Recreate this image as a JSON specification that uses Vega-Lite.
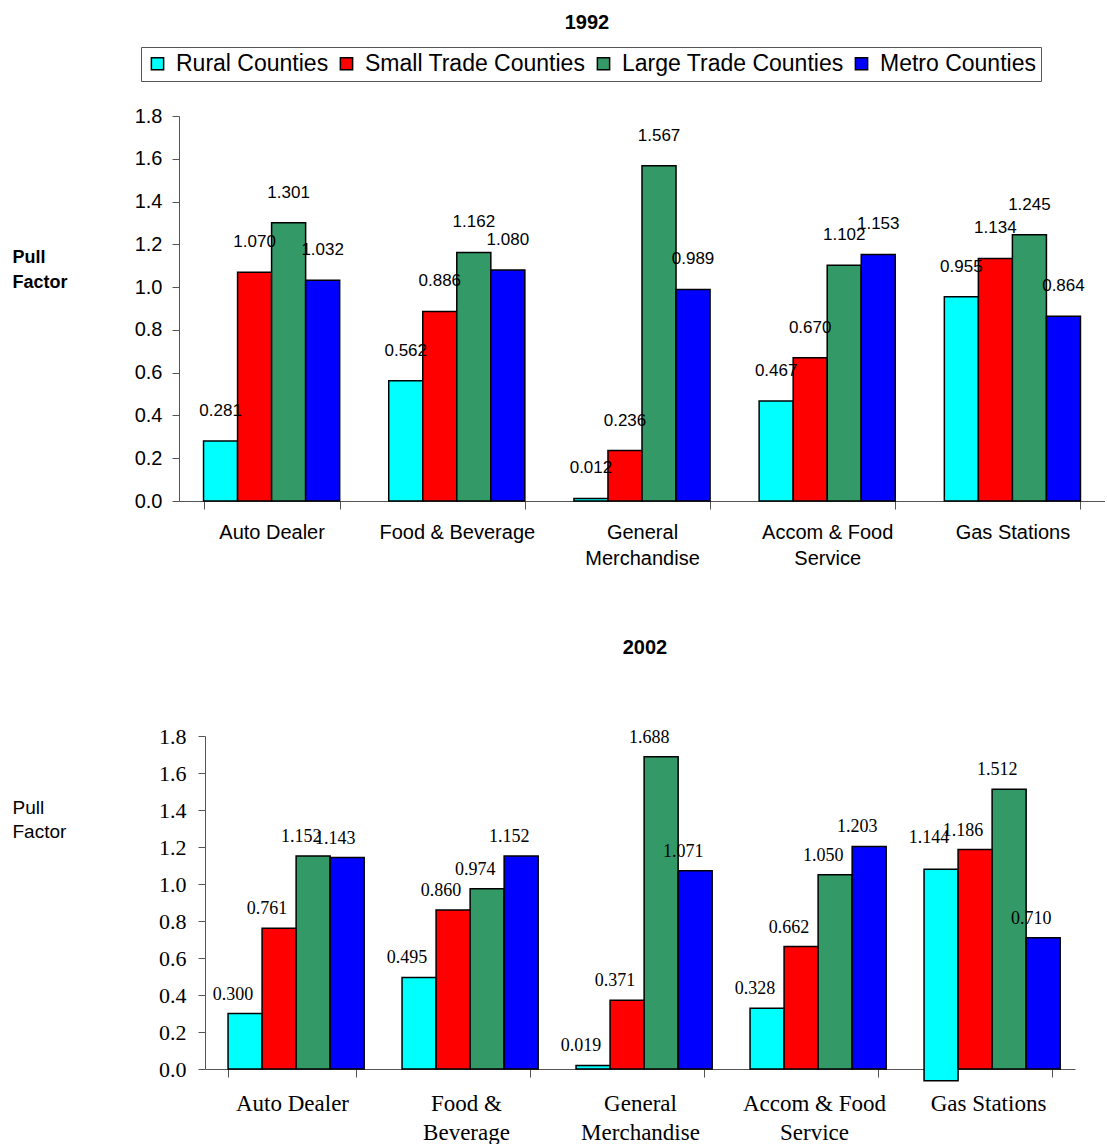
{
  "$schema": "https://vega.github.io/schema/vega-lite/v6.json",
  "padding": {"left": 12, "top": 12, "right": 0, "bottom": 0},
  "config": {"view": {"stroke": null}, "axis": {"grid": false}, "axisY": {"labelOverlap": false}},
  "datasets": {
    "pf": [
      {"year": "1992", "category": "Auto Dealer", "series": "Rural Counties", "value": 0.281, "bar_start": 0, "bar_end": 0.281},
      {"year": "1992", "category": "Auto Dealer", "series": "Small Trade Counties", "value": 1.070, "bar_start": 0, "bar_end": 1.070},
      {"year": "1992", "category": "Auto Dealer", "series": "Large Trade Counties", "value": 1.301, "bar_start": 0, "bar_end": 1.301},
      {"year": "1992", "category": "Auto Dealer", "series": "Metro Counties", "value": 1.032, "bar_start": 0, "bar_end": 1.032},
      {"year": "1992", "category": "Food & Beverage", "series": "Rural Counties", "value": 0.562, "bar_start": 0, "bar_end": 0.562},
      {"year": "1992", "category": "Food & Beverage", "series": "Small Trade Counties", "value": 0.886, "bar_start": 0, "bar_end": 0.886},
      {"year": "1992", "category": "Food & Beverage", "series": "Large Trade Counties", "value": 1.162, "bar_start": 0, "bar_end": 1.162},
      {"year": "1992", "category": "Food & Beverage", "series": "Metro Counties", "value": 1.080, "bar_start": 0, "bar_end": 1.080},
      {"year": "1992", "category": "General Merchandise", "series": "Rural Counties", "value": 0.012, "bar_start": 0, "bar_end": 0.012},
      {"year": "1992", "category": "General Merchandise", "series": "Small Trade Counties", "value": 0.236, "bar_start": 0, "bar_end": 0.236},
      {"year": "1992", "category": "General Merchandise", "series": "Large Trade Counties", "value": 1.567, "bar_start": 0, "bar_end": 1.567},
      {"year": "1992", "category": "General Merchandise", "series": "Metro Counties", "value": 0.989, "bar_start": 0, "bar_end": 0.989},
      {"year": "1992", "category": "Accom & Food Service", "series": "Rural Counties", "value": 0.467, "bar_start": 0, "bar_end": 0.467},
      {"year": "1992", "category": "Accom & Food Service", "series": "Small Trade Counties", "value": 0.670, "bar_start": 0, "bar_end": 0.670},
      {"year": "1992", "category": "Accom & Food Service", "series": "Large Trade Counties", "value": 1.102, "bar_start": 0, "bar_end": 1.102},
      {"year": "1992", "category": "Accom & Food Service", "series": "Metro Counties", "value": 1.153, "bar_start": 0, "bar_end": 1.153},
      {"year": "1992", "category": "Gas Stations", "series": "Rural Counties", "value": 0.955, "bar_start": 0, "bar_end": 0.955},
      {"year": "1992", "category": "Gas Stations", "series": "Small Trade Counties", "value": 1.134, "bar_start": 0, "bar_end": 1.134},
      {"year": "1992", "category": "Gas Stations", "series": "Large Trade Counties", "value": 1.245, "bar_start": 0, "bar_end": 1.245},
      {"year": "1992", "category": "Gas Stations", "series": "Metro Counties", "value": 0.864, "bar_start": 0, "bar_end": 0.864},
      {"year": "2002", "category": "Auto Dealer", "series": "Rural Counties", "value": 0.300, "bar_start": 0, "bar_end": 0.300},
      {"year": "2002", "category": "Auto Dealer", "series": "Small Trade Counties", "value": 0.761, "bar_start": 0, "bar_end": 0.761},
      {"year": "2002", "category": "Auto Dealer", "series": "Large Trade Counties", "value": 1.152, "bar_start": 0, "bar_end": 1.152},
      {"year": "2002", "category": "Auto Dealer", "series": "Metro Counties", "value": 1.143, "bar_start": 0, "bar_end": 1.143},
      {"year": "2002", "category": "Food & Beverage", "series": "Rural Counties", "value": 0.495, "bar_start": 0, "bar_end": 0.495},
      {"year": "2002", "category": "Food & Beverage", "series": "Small Trade Counties", "value": 0.860, "bar_start": 0, "bar_end": 0.860},
      {"year": "2002", "category": "Food & Beverage", "series": "Large Trade Counties", "value": 0.974, "bar_start": 0, "bar_end": 0.974},
      {"year": "2002", "category": "Food & Beverage", "series": "Metro Counties", "value": 1.152, "bar_start": 0, "bar_end": 1.152},
      {"year": "2002", "category": "General Merchandise", "series": "Rural Counties", "value": 0.019, "bar_start": 0, "bar_end": 0.019},
      {"year": "2002", "category": "General Merchandise", "series": "Small Trade Counties", "value": 0.371, "bar_start": 0, "bar_end": 0.371},
      {"year": "2002", "category": "General Merchandise", "series": "Large Trade Counties", "value": 1.688, "bar_start": 0, "bar_end": 1.688},
      {"year": "2002", "category": "General Merchandise", "series": "Metro Counties", "value": 1.071, "bar_start": 0, "bar_end": 1.071},
      {"year": "2002", "category": "Accom & Food Service", "series": "Rural Counties", "value": 0.328, "bar_start": 0, "bar_end": 0.328},
      {"year": "2002", "category": "Accom & Food Service", "series": "Small Trade Counties", "value": 0.662, "bar_start": 0, "bar_end": 0.662},
      {"year": "2002", "category": "Accom & Food Service", "series": "Large Trade Counties", "value": 1.050, "bar_start": 0, "bar_end": 1.050},
      {"year": "2002", "category": "Accom & Food Service", "series": "Metro Counties", "value": 1.203, "bar_start": 0, "bar_end": 1.203},
      {"year": "2002", "category": "Gas Stations", "series": "Rural Counties", "value": 1.144, "bar_start": -0.064, "bar_end": 1.080},
      {"year": "2002", "category": "Gas Stations", "series": "Small Trade Counties", "value": 1.186, "bar_start": 0, "bar_end": 1.186},
      {"year": "2002", "category": "Gas Stations", "series": "Large Trade Counties", "value": 1.512, "bar_start": 0, "bar_end": 1.512},
      {"year": "2002", "category": "Gas Stations", "series": "Metro Counties", "value": 0.710, "bar_start": 0, "bar_end": 0.710}
    ]
  },
  "columns": 1,
  "align": "none",
  "spacing": 70,
  "resolve": {"scale": {"color": "independent"}},
  "concat": [
    {
      "title": {"text": "1992", "font": "Liberation Sans", "fontSize": 20, "fontWeight": "bold", "color": "black", "frame": "group", "anchor": "middle", "dx": -55, "offset": 14},
      "width": 926,
      "height": 385,
      "data": {"name": "pf"},
      "transform": [{"filter": "datum.year == '1992'"}],
      "encoding": {
        "x": {
          "field": "category", "type": "nominal",
          "sort": ["Auto Dealer", "Food & Beverage", "General Merchandise", "Accom & Food Service", "Gas Stations"],
          "scale": {"paddingInner": 0.265, "paddingOuter": 0.1325},
          "axis": {
            "title": null, "labelAngle": 0,
            "labelExpr": "datum.value == 'General Merchandise' ? ['General', 'Merchandise'] : datum.value == 'Accom & Food Service' ? ['Accom & Food', 'Service'] : datum.value",
            "labelFont": "Liberation Sans", "labelFontSize": 20, "labelColor": "black", "labelLineHeight": 26,
            "labelPadding": 13, "labelLimit": 400, "tickBand": "extent", "tickSize": 8,
            "domainColor": "#555", "tickColor": "#555"
          }
        },
        "xOffset": {"field": "series", "type": "nominal", "sort": ["Rural Counties", "Small Trade Counties", "Large Trade Counties", "Metro Counties"]}
      },
      "layer": [
        {
          "mark": {"type": "bar", "stroke": "black", "strokeWidth": 1.5},
          "encoding": {
            "y": {
              "field": "bar_end", "type": "quantitative",
              "scale": {"domain": [0, 1.8], "nice": false, "zero": false},
              "axis": {
                "title": ["Pull", " Factor"], "titleAngle": 0, "titleAlign": "left", "titleBaseline": "top",
                "titleX": -167, "titleY": 132, "titleFont": "Liberation Sans", "titleFontSize": 18, "titleFontWeight": "bold",
                "titleColor": "black", "titleLineHeight": 25,
                "values": [0, 0.2, 0.4, 0.6, 0.8, 1.0, 1.2, 1.4, 1.6, 1.8], "format": ".1f", "labelOverlap": false,
                "labelFont": "Liberation Sans", "labelFontSize": 20, "labelColor": "black",
                "tickSize": 7, "labelPadding": 10, "domainColor": "#555", "tickColor": "#555"
              }
            },
            "y2": {"field": "bar_start"},
            "color": {
              "field": "series", "type": "nominal",
              "sort": ["Rural Counties", "Small Trade Counties", "Large Trade Counties", "Metro Counties"],
              "scale": {"domain": ["Rural Counties", "Small Trade Counties", "Large Trade Counties", "Metro Counties"], "range": ["#00FFFF", "#FF0000", "#339966", "#0000FF"]},
              "legend": {
                "orient": "none", "legendX": -38, "legendY": -69, "direction": "horizontal", "title": null,
                "strokeColor": "#555", "fillColor": "white", "padding": 5,
                "symbolType": "square", "symbolSize": 150, "symbolStrokeColor": "black", "symbolStrokeWidth": 1.5, "symbolOpacity": 1,
                "labelFont": "Liberation Sans", "labelFontSize": 23, "labelColor": "black", "labelOffset": 7, "labelLimit": 400,
                "columnPadding": 6
              }
            }
          }
        },
        {
          "mark": {"type": "text", "font": "Liberation Sans", "fontSize": 17, "baseline": "middle", "dy": -30, "color": "black"},
          "encoding": {
            "y": {"field": "value", "type": "quantitative"},
            "text": {"field": "value", "type": "quantitative", "format": ".3f"}
          }
        }
      ]
    },
    {
      "title": {"text": "2002", "font": "Liberation Sans", "fontSize": 20, "fontWeight": "bold", "color": "black", "frame": "group", "anchor": "middle", "dx": 18, "offset": 67},
      "width": 896,
      "height": 333,
      "data": {"name": "pf"},
      "transform": [{"filter": "datum.year == '2002'"}],
      "encoding": {
        "x": {
          "field": "category", "type": "nominal",
          "sort": ["Auto Dealer", "Food & Beverage", "General Merchandise", "Accom & Food Service", "Gas Stations"],
          "scale": {"range": [26, 896], "paddingInner": 0.265, "paddingOuter": 0.1325},
          "axis": {
            "title": null, "labelAngle": 0,
            "labelExpr": "datum.value == 'General Merchandise' ? ['General', 'Merchandise'] : datum.value == 'Accom & Food Service' ? ['Accom & Food', 'Service'] : datum.value == 'Food & Beverage' ? ['Food &', 'Beverage'] : datum.value",
            "labelFont": "Liberation Serif", "labelFontSize": 23, "labelColor": "black", "labelLineHeight": 29,
            "labelPadding": 15, "labelLimit": 400, "tickBand": "extent", "tickSize": 8,
            "domainColor": "#555", "tickColor": "#555"
          }
        },
        "xOffset": {"field": "series", "type": "nominal", "sort": ["Rural Counties", "Small Trade Counties", "Large Trade Counties", "Metro Counties"]}
      },
      "layer": [
        {
          "mark": {"type": "bar", "stroke": "black", "strokeWidth": 1.5},
          "encoding": {
            "y": {
              "field": "bar_end", "type": "quantitative",
              "scale": {"domain": [0, 1.8], "nice": false, "zero": false},
              "axis": {
                "offset": -26,
                "title": ["Pull", "Factor"], "titleAngle": 0, "titleAlign": "left", "titleBaseline": "top",
                "titleX": -193, "titleY": 62, "titleFont": "Liberation Sans", "titleFontSize": 19, "titleFontWeight": "normal",
                "titleColor": "black", "titleLineHeight": 24,
                "values": [0, 0.2, 0.4, 0.6, 0.8, 1.0, 1.2, 1.4, 1.6, 1.8], "tickCount": 10, "format": ".1f", "labelOverlap": false,
                "labelFont": "Liberation Serif", "labelFontSize": 22, "labelColor": "black",
                "tickSize": 7, "labelPadding": 12, "domainColor": "#555", "tickColor": "#555"
              }
            },
            "y2": {"field": "bar_start"},
            "color": {
              "field": "series", "type": "nominal",
              "sort": ["Rural Counties", "Small Trade Counties", "Large Trade Counties", "Metro Counties"],
              "scale": {"domain": ["Rural Counties", "Small Trade Counties", "Large Trade Counties", "Metro Counties"], "range": ["#00FFFF", "#FF0000", "#339966", "#0000FF"]},
              "legend": null
            }
          }
        },
        {
          "mark": {"type": "text", "font": "Liberation Serif", "fontSize": 18, "baseline": "middle", "dy": -19, "dx": -12, "color": "black"},
          "encoding": {
            "y": {
              "field": "value", "type": "quantitative",
              "axis": {
                "offset": -26,
                "title": ["Pull", "Factor"], "titleAngle": 0, "titleAlign": "left", "titleBaseline": "top",
                "titleX": -193, "titleY": 62, "titleFont": "Liberation Sans", "titleFontSize": 19, "titleFontWeight": "normal",
                "titleColor": "black", "titleLineHeight": 24,
                "values": [0, 0.2, 0.4, 0.6, 0.8, 1.0, 1.2, 1.4, 1.6, 1.8], "tickCount": 10, "format": ".1f", "labelOverlap": false,
                "labelFont": "Liberation Serif", "labelFontSize": 22, "labelColor": "black",
                "tickSize": 7, "labelPadding": 12, "domainColor": "#555", "tickColor": "#555"
              }
            },
            "text": {"field": "value", "type": "quantitative", "format": ".3f"}
          }
        }
      ]
    }
  ]
}
